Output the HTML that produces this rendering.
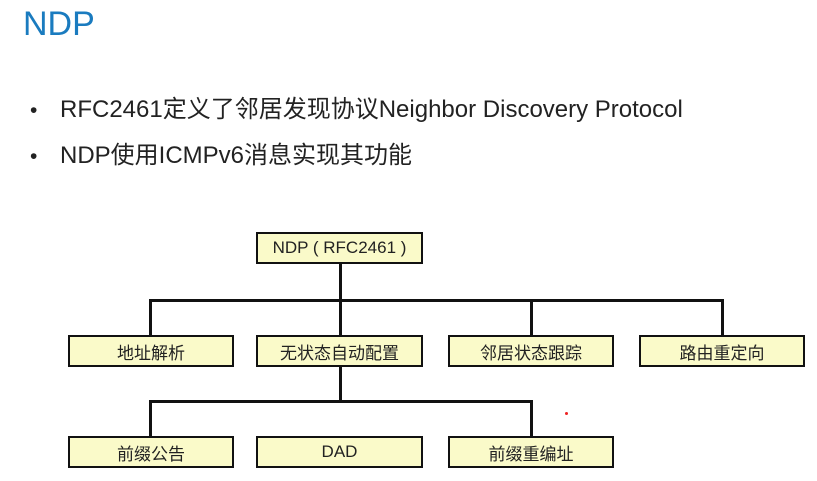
<!DOCTYPE html>
<html><head><meta charset="utf-8"><style>
body{margin:0;width:817px;height:481px;background:#fff;position:relative;overflow:hidden;font-family:"Liberation Sans","Noto Sans CJK SC",sans-serif}
.t{position:absolute;left:23px;top:5px;font-size:34px;color:#1a7bbf}
.b{position:absolute;left:30px;font-size:24px;color:#222;white-space:nowrap}
.b span{display:inline-block;width:30px;font-size:21px}
.box{position:absolute;box-sizing:border-box;border:2.5px solid #111;background:#fafac9;font-size:17px;color:#222;display:flex;align-items:center;justify-content:center;height:32px;white-space:pre}
.l{position:absolute;background:#111}
</style></head><body>
<div class="t">NDP</div>
<div class="b" style="top:89px"><span>•</span>RFC2461定义了邻居发现协议Neighbor Discovery Protocol</div>
<div class="b" style="top:135px"><span>•</span>NDP使用ICMPv6消息实现其功能</div>
<div class="l" style="left:339px;top:264px;width:3px;height:72px"></div>
<div class="l" style="left:149px;top:299px;width:575px;height:3px"></div>
<div class="l" style="left:149px;top:299px;width:3px;height:37px"></div>
<div class="l" style="left:530px;top:299px;width:3px;height:37px"></div>
<div class="l" style="left:721px;top:299px;width:3px;height:37px"></div>
<div class="l" style="left:339px;top:366px;width:3px;height:36px"></div>
<div class="l" style="left:149px;top:400px;width:384px;height:3px"></div>
<div class="l" style="left:149px;top:400px;width:3px;height:37px"></div>
<div class="l" style="left:530px;top:400px;width:3px;height:37px"></div>
<div class="box" style="left:256px;top:232px;width:167px">NDP ( RFC2461 )</div>
<div class="box" style="left:68px;top:335px;width:166px">地址解析</div>
<div class="box" style="left:256px;top:335px;width:167px">无状态自动配置</div>
<div class="box" style="left:448px;top:335px;width:166px">邻居状态跟踪</div>
<div class="box" style="left:639px;top:335px;width:166px">路由重定向</div>
<div class="box" style="left:68px;top:436px;width:166px">前缀公告</div>
<div class="box" style="left:256px;top:436px;width:167px">DAD</div>
<div class="box" style="left:448px;top:436px;width:166px">前缀重编址</div>
<div style="position:absolute;left:565px;top:412px;width:3px;height:3px;border-radius:50%;background:#e22"></div>
</body></html>
